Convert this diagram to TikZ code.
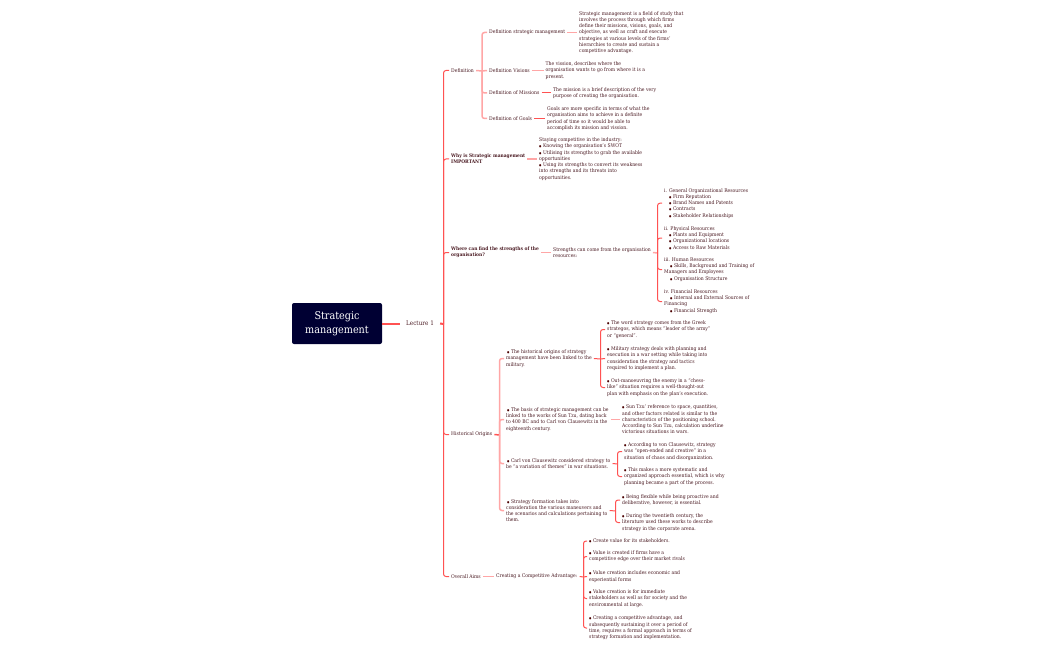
\documentclass[tikz,border=0pt]{standalone}
\usepackage{fontspec}
\usepackage{tikz}
\setmainfont{DejaVu Serif Condensed}
\definecolor{rootblue}{HTML}{000033}
\definecolor{linered}{HTML}{FF5252}
\definecolor{linepale}{HTML}{FFA6A6}
\definecolor{textbrown}{HTML}{4A1A22}
\definecolor{dotred}{HTML}{4A0000}
\newcommand{\dotmark}{{\fontsize{3}{3}\selectfont\color{dotred}●}}
\begin{document}
\begin{tikzpicture}
  [x=1pt,y=-1pt,every node/.style={inner sep=2pt,anchor=west,align=left,yshift=-0.5pt,text=textbrown,font=\fontsize{5.05}{6.25}\selectfont}]

  \tikzstyle{root} = [fill=rootblue,rounded corners=2pt,anchor=center,align=center,minimum width=90pt,minimum height=41pt,text=white,font=\fontsize{10.7}{14}\selectfont]
  \tikzstyle{lead} = [font=\fontsize{4.88}{6.25}\selectfont\bfseries]
  \tikzstyle{trunk} = [draw=linered,line width=2pt]
  \tikzstyle{branch} = [draw=linered,line width=1pt,rounded corners=2.5pt]
  \tikzstyle{pale} = [draw=linepale,line width=1.5pt,rounded corners=2.5pt]

  \useasboundingbox (0,0) rectangle (1050,650);

  \node[root] (strategic) at (337,323) {Strategic\\management};
  \node[inner xsep=6pt,font=\fontsize{6.3}{7}\selectfont] (lecture) at (400,323) {Lecture 1};

  \node (definition) at (449,70) {Definition};
  \node[lead] (why) at (449,158.5) {Why is Strategic management\\IMPORTANT};
  \node[lead] (where) at (449,252) {Where can find the strengths of the\\organisation?};
  \node (origins) at (449,434) {Historical Origins};
  \node (aims) at (449,576) {Overall Aims};

  \node (defstrategic) at (487,32) {Definition strategic management};
  \node (defvisions) at (487,70) {Definition Visions};
  \node (defmissions) at (487,92.5) {Definition of Missions};
  \node (defgoals) at (487,118) {Definition of Goals};

  \node (txtstrategic) at (577,32) {Strategic management is a field of study that\\involves the process through which firms\\define their missions, visions, goals, and\\objective, as well as craft and execute\\strategies at various levels of the firms'\\hierarchies to create and sustain a\\competitive advantage.};
  \node (txtvisions) at (543.5,70) {The vission, describes where the\\organisation wants to go from where it is a\\present.};
  \node (txtmissions) at (551,92.5) {The mission is a brief description of the very\\purpose of creating the organisation.};
  \node (txtgoals) at (545,118) {Goals are more specific in terms of what the\\organisation aims to achieve in a definite\\period of time so it would be able to\\accomplish its mission and vission.};

  \node (txtwhy) at (537,158.5) {Staying competitive in the industry:\\\dotmark{} Knowing the organisation's SWOT\\\dotmark{} Utilising its strengths to grab the available\\opportunities\\\dotmark{} Using its strengths to convert its weakness\\into strengths and its threats into\\opportunities.};

  \node (txtwhere) at (551,252) {Strengths can come from the organisation\\resources:};
  \node (resgeneral) at (662,202.7) {i. General Organizational Resources\\\hspace*{5pt}\dotmark{} Firm Reputation\\\hspace*{5pt}\dotmark{} Brand Names and Patents\\\hspace*{5pt}\dotmark{} Contracts\\\hspace*{5pt}\dotmark{} Stakeholder Relationships};
  \node (resphysical) at (662,237.5) {ii. Physical Resources\\\hspace*{5pt}\dotmark{} Plants and Equipment\\\hspace*{5pt}\dotmark{} Organizational locations\\\hspace*{5pt}\dotmark{} Access to Raw Materials};
  \node (reshuman) at (662,269) {iii. Human Resources\\\hspace*{6pt}\dotmark{} Skills, Background and Training of\\Managers and Employees\\\hspace*{6pt}\dotmark{} Organisation Structure};
  \node (resfinance) at (662,301) {iv. Financial Resources\\\hspace*{6pt}\dotmark{} Internal and External Sources of\\Financing\\\hspace*{6pt}\dotmark{} Financial Strength};

  \node (hisone) at (504,358) {\hspace*{1pt}\dotmark{} The historical origins of strategy\\management have been linked to the\\military.};
  \node (histwo) at (504,419) {\hspace*{1pt}\dotmark{} The basis of strategic management can be\\linked to the works of Sun Tzu, dating back\\to 400 BC and to Carl von Clausewitz in the\\eighteenth century.};
  \node (histhree) at (504,463) {\hspace*{1pt}\dotmark{} Carl von Clausewitz considered strategy to\\be ``a variation of themes'' in war situations.};
  \node (hisfour) at (504,510) {\hspace*{1pt}\dotmark{} Strategy formation takes into\\consideration the various maneuvers and\\the scenarios and calculations pertaining to\\them.};

  \node (wordone) at (605,329) {\dotmark{} The word strategy comes from the Greek\\strategos, which means ``leader of the army''\\or ``general''.};
  \node (wordtwo) at (605,358) {\dotmark{} Military strategy deals with planning and\\execution in a war setting while taking into\\consideration the strategy and tactics\\required to implement a plan.};
  \node (wordthree) at (605,387) {\dotmark{} Out-manoeuvring the enemy in a ``chess-\\like'' situation requires a well-thought-out\\plan with emphasis on the plan's execution.};
  \node (suntzu) at (620,419) {\dotmark{} Sun Tzu' reference to space, quantities,\\and other factors related is similar to the\\characteristics of the positioning school.\\According to Sun Tzu, calculation underline\\victorious situations in wars.};
  \node (carlone) at (622,451) {\dotmark{} According to von Clausewitz, strategy\\was ``open-ended and creative'' in a\\situation of chaos and disorganization.};
  \node (carltwo) at (622,476) {\dotmark{} This makes a more systematic and\\organized approach essential, which is why\\planning became a part of the process.};
  \node (formone) at (620,499.5) {\dotmark{} Being flexible while being proactive and\\deliberative, however, is essential.};
  \node (formtwo) at (620,522) {\dotmark{} During the twentieth century, the\\literature used these works to describe\\strategy in the corporate arena.};

  \node (advantage) at (494,576) {Creating a Competitive Advantage:};
  \node (valone) at (587,540.5) {\dotmark{} Create value for its stakeholders.};
  \node (valtwo) at (587,556) {\dotmark{} Value is created if firms have a\\competitive edge over their market rivals};
  \node (valthree) at (587,576) {\dotmark{} Value creation includes economic and\\experiential forms};
  \node (valfour) at (587,598) {\dotmark{} Value creation is for immediate\\stakeholders as well as for society and the\\environmental at large.};
  \node (valfive) at (587,627.5) {\dotmark{} Creating a competitive advantage, and\\subsequently sustaining it over a period of\\time, requires a formal approach in terms of\\strategy formation and implementation.};

  \coordinate (mainfork) at (443.5,323.5);
  \coordinate (deffork) at (482,70.5);
  \coordinate (resfork) at (657.5,252.5);
  \coordinate (hisfork) at (499.5,434.5);
  \coordinate (wordfork) at (600.5,358.5);
  \coordinate (carlfork) at (617.5,463.5);
  \coordinate (formfork) at (615.5,510.5);
  \coordinate (valfork) at (583.5,576.5);

  \draw[trunk] (strategic.east) -- (lecture.west);
  \draw[trunk] (lecture.east) -- (mainfork);
  \draw[branch] (mainfork) |- (definition.west);
  \draw[branch] (mainfork) |- (why.west);
  \draw[branch] (mainfork) |- (where.west);
  \draw[branch] (mainfork) |- (origins.west);
  \draw[branch] (mainfork) |- (aims.west);

  \draw[pale] (definition.east) -- (deffork);
  \draw[pale] (deffork) |- (defstrategic.west);
  \draw[pale] (deffork) -- (defvisions.west);
  \draw[pale] (deffork) |- (defmissions.west);
  \draw[pale] (deffork) |- (defgoals.west);
  \draw[pale] (defstrategic.east) -- (txtstrategic.west);
  \draw[pale] (defvisions.east) -- (txtvisions.west);
  \draw[branch] (defmissions.east) -- (txtmissions.west);
  \draw[branch] (defgoals.east) -- (txtgoals.west);
  \draw[pale] (why.east) -- (txtwhy.west);

  \draw[pale] (where.east) -- (txtwhere.west);
  \draw[pale] (txtwhere.east) -- (resfork);
  \draw[branch] (resfork) |- (resgeneral.west);
  \draw[branch] (resfork) |- (resphysical.west);
  \draw[branch] (resfork) |- (reshuman.west);
  \draw[branch] (resfork) |- (resfinance.west);

  \draw[trunk,line width=1.5pt] (origins.east) -- (hisfork);
  \draw[pale] (hisfork) |- (hisone.west);
  \draw[pale] (hisfork) |- (histwo.west);
  \draw[pale] (hisfork) |- (histhree.west);
  \draw[pale] (hisfork) |- (hisfour.west);
  \draw[branch] (hisone.east) -- (wordfork);
  \draw[branch] (wordfork) |- (wordone.west);
  \draw[branch] (wordfork) -- (wordtwo.west);
  \draw[branch] (wordfork) |- (wordthree.west);
  \draw[pale] (histwo.east) -- (suntzu.west);
  \draw[branch] (histhree.east) -- (carlfork);
  \draw[branch] (carlfork) |- (carlone.west);
  \draw[branch] (carlfork) |- (carltwo.west);
  \draw[branch] (hisfour.east) -- (formfork);
  \draw[branch] (formfork) |- (formone.west);
  \draw[branch] (formfork) |- (formtwo.west);

  \draw[pale] (aims.east) -- (advantage.west);
  \draw[branch] (advantage.east) -- (valfork);
  \draw[branch] (valfork) |- (valone.west);
  \draw[branch] (valfork) |- (valtwo.west);
  \draw[branch] (valfork) -- (valthree.west);
  \draw[branch] (valfork) |- (valfour.west);
  \draw[branch] (valfork) |- (valfive.west);
\end{tikzpicture}
\end{document}
